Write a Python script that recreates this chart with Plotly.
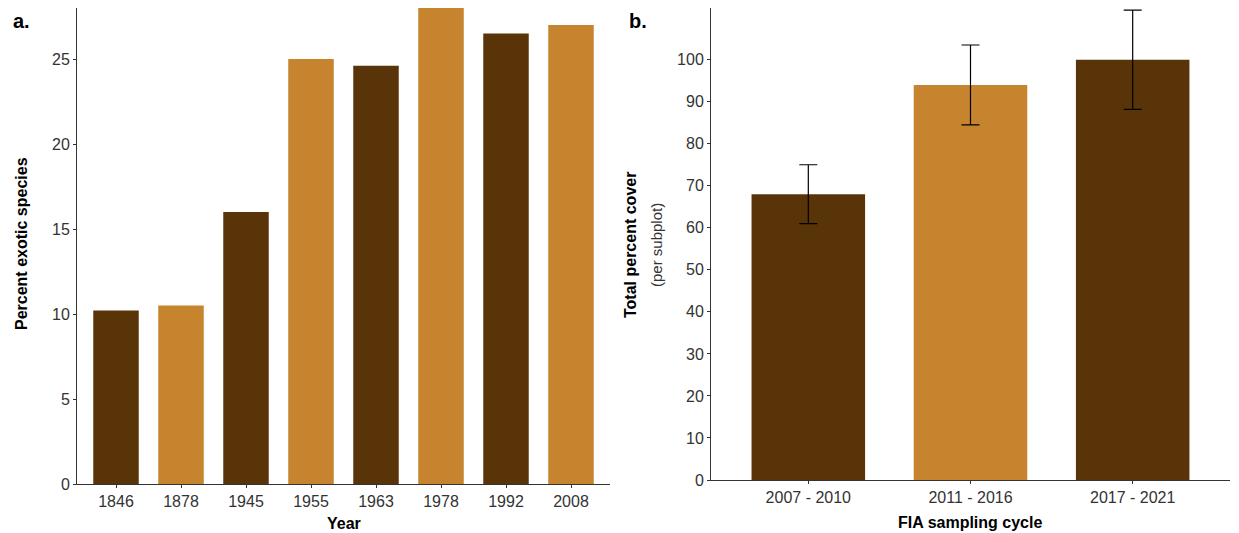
import plotly.graph_objects as go

# ---- data ----
years = ["1846", "1878", "1945", "1955", "1963", "1978", "1992", "2008"]
pct_exotic = [10.2, 10.5, 16.0, 25.0, 24.6, 28.0, 26.5, 27.0]

cycles = ["2007 - 2010", "2011 - 2016", "2017 - 2021"]
total_cover = [68.0, 94.0, 100.0]
cover_err = [7.0, 9.5, 11.8]

DARK = "#5a3409"
LIGHT = "#c6842f"
left_colors = [DARK if i % 2 == 0 else LIGHT for i in range(len(years))]
right_colors = [DARK, LIGHT, DARK]

W, H = 1239, 533
FONT = "Liberation Sans, Arial, sans-serif"

fig = go.Figure()
fig.add_trace(go.Bar(x=years, y=pct_exotic, marker=dict(color=left_colors, line=dict(width=0)),
                     width=0.7, xaxis="x", yaxis="y", showlegend=False))
fig.add_trace(go.Bar(x=cycles, y=total_cover, marker=dict(color=right_colors, line=dict(width=0)),
                     width=0.7, xaxis="x2", yaxis="y2", showlegend=False,
                     error_y=dict(type="data", array=cover_err, color="black", thickness=1.2, width=9)))

axis_common = dict(showline=True, linecolor="#333333", linewidth=1, ticks="outside", ticklen=3,
                   tickcolor="#333333", showgrid=False, zeroline=False,
                   tickfont=dict(family=FONT, size=16, color="#333333"), automargin=False)

fig.update_layout(
    width=W, height=H,
    margin=dict(l=0, r=0, t=0, b=0),
    paper_bgcolor="white", plot_bgcolor="white",
    bargap=0.3,
    xaxis=dict(domain=[77 / W, 610 / W], range=[-0.6, 7.6], anchor="y", **axis_common),
    yaxis=dict(domain=[1 - 484 / H, 1 - 8 / H], range=[0, 28.0], anchor="x",
               tickvals=[0, 5, 10, 15, 20, 25], **axis_common),
    xaxis2=dict(domain=[711 / W, 1230 / W], range=[-0.6, 2.6], anchor="y2", **axis_common),
    yaxis2=dict(domain=[1 - 480 / H, 1 - 8 / H], range=[0, 112.3], anchor="x2",
                tickvals=list(range(0, 101, 10)), **axis_common),
)

def ann(text, x, y, size, bold=False, angle=0, color="black"):
    fig.add_annotation(text=f"<b>{text}</b>" if bold else text, x=x / W, y=1 - y / H,
                       xref="paper", yref="paper", showarrow=False, textangle=angle,
                       xanchor="center", yanchor="middle",
                       font=dict(family=FONT, size=size, color=color))

ann("a.", 21, 21, 20, bold=True)
ann("b.", 638, 21, 20, bold=True)
ann("Percent exotic species", 21, 244, 16, bold=True, angle=-90)
ann("Year", 344, 523, 16, bold=True)
ann("Total percent cover", 631, 245, 16, bold=True, angle=-90)
ann("(per subplot)", 657, 245, 15, angle=-90, color="#333333")
ann("FIA sampling cycle", 970, 522, 16, bold=True)

fig.write_html("out.html", config={"displayModeBar": False},
               post_script="document.body.style.margin='0';document.body.style.overflow='hidden';")
